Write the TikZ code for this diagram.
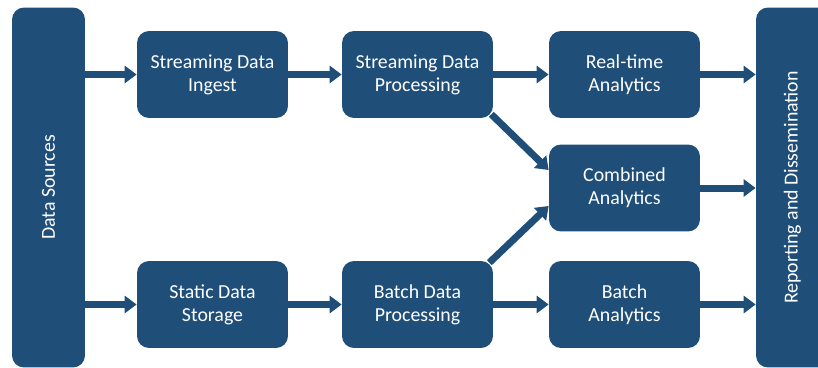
\documentclass[tikz,border=0pt]{standalone}
\usepackage{fontspec}
\setmainfont{Carlito}
\usepackage{xcolor}
\usetikzlibrary{arrows.meta}
\definecolor{boxblue}{HTML}{1F4E79}

\begin{document}
\begin{tikzpicture}[x=0.02cm, y=-0.02cm,
        main/.style = {fill=boxblue, rounded corners=0.24cm, text=white, align=center,
            minimum width=3.02cm, minimum height=1.74cm, font=\fontsize{11.3}{13.2}\selectfont},
        side/.style = {fill=boxblue, rounded corners=0.24cm, text=white, rotate=90,
            minimum width=7.2cm, minimum height=1.46cm, font=\fontsize{11.3}{13.2}\selectfont},
        arr/.style = {draw=boxblue, line width=0.14cm, -{Triangle[length=0.24cm, width=0.34cm]}}]
        \useasboundingbox (0,0) rectangle (818,368);
        \node[side] (src) at (48.5,187.5) {Data Sources};
        \node[side] (rep) at (792.5,187.5) {Reporting and Dissemination};

        \node[main] (ingest) at (212.5,74.5) {Streaming Data\\Ingest};
        \node[main] (sproc) at (417.5,74.5) {Streaming Data\\Processing};
        \node[main] (rt) at (624.5,74.5) {Real-time\\Analytics};
        \node[main] (comb) at (624.5,188) {Combined\\Analytics};
        \node[main] (store) at (212.5,304.5) {Static Data\\Storage};
        \node[main] (bproc) at (417.5,304.5) {Batch Data\\Processing};
        \node[main] (batch) at (624.5,304.5) {Batch\\Analytics};

        \draw[arr] (src.south |- ingest) -- (ingest);
        \draw[arr] (ingest) -- (sproc);
        \draw[arr] (sproc) -- (rt);
        \draw[arr] (rt) -- (rep.north |- rt);
        \draw[arr] (src.south |- store) -- (store);
        \draw[arr] (store) -- (bproc);
        \draw[arr] (bproc) -- (batch);
        \draw[arr] (batch) -- (rep.north |- batch);
        \draw[arr] (comb) -- (rep.north |- comb);
        \draw[arr] ([shift={(-0.04cm,0.08cm)}]sproc.south east) -- ([yshift=0.36cm]comb.west);
        \draw[arr] ([shift={(-0.08cm,-0.04cm)}]bproc.north east) -- ([yshift=-0.36cm]comb.west);
    \end{tikzpicture}
\end{document}
